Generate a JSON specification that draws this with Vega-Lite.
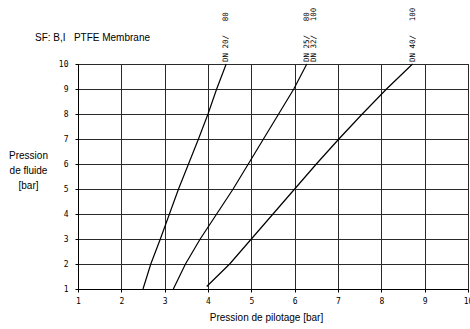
{
  "$schema": "https://vega.github.io/schema/vega-lite/v6.json",
  "autosize": "none",
  "padding": {"left": 78, "top": 64, "right": 2, "bottom": 40},
  "width": 390,
  "height": 225,
  "background": "white",
  "title": {
    "text": "SF: B,I\u00a0\u00a0\u00a0PTFE Membrane",
    "anchor": "start",
    "frame": "group",
    "font": "Liberation Sans",
    "fontSize": 10,
    "fontWeight": "normal",
    "color": "black",
    "baseline": "alphabetic",
    "dx": -43,
    "dy": 43,
    "offset": 0
  },
  "datasets": {
    "curves": [
      {"s": "DN20", "x": 2.5, "y": 1},
      {"s": "DN20", "x": 2.68, "y": 2},
      {"s": "DN20", "x": 2.9, "y": 3},
      {"s": "DN20", "x": 3.11, "y": 4},
      {"s": "DN20", "x": 3.32, "y": 5},
      {"s": "DN20", "x": 3.55, "y": 6},
      {"s": "DN20", "x": 3.78, "y": 7},
      {"s": "DN20", "x": 4.0, "y": 8},
      {"s": "DN20", "x": 4.2, "y": 9},
      {"s": "DN20", "x": 4.42, "y": 10},
      {"s": "DN25", "x": 3.2, "y": 1},
      {"s": "DN25", "x": 3.48, "y": 2},
      {"s": "DN25", "x": 3.82, "y": 3},
      {"s": "DN25", "x": 4.2, "y": 4},
      {"s": "DN25", "x": 4.58, "y": 5},
      {"s": "DN25", "x": 4.93, "y": 6},
      {"s": "DN25", "x": 5.28, "y": 7},
      {"s": "DN25", "x": 5.63, "y": 8},
      {"s": "DN25", "x": 5.98, "y": 9},
      {"s": "DN25", "x": 6.28, "y": 10},
      {"s": "DN40", "x": 3.97, "y": 1.1},
      {"s": "DN40", "x": 4.5, "y": 2},
      {"s": "DN40", "x": 5.0, "y": 3},
      {"s": "DN40", "x": 5.5, "y": 4},
      {"s": "DN40", "x": 6.0, "y": 5},
      {"s": "DN40", "x": 6.5, "y": 6},
      {"s": "DN40", "x": 7.02, "y": 7},
      {"s": "DN40", "x": 7.56, "y": 8},
      {"s": "DN40", "x": 8.12, "y": 9},
      {"s": "DN40", "x": 8.72, "y": 10}
    ],
    "labels": [
      {"t": "DN 20/\u00a0\u00a0\u00a080", "x": 4.42, "y": 10, "off": 0},
      {"t": "DN 25/\u00a0\u00a0\u00a080|DN 32/\u00a0\u00a0\u00a0100", "x": 6.28, "y": 10, "off": -5},
      {"t": "DN 40/\u00a0\u00a0\u00a0100", "x": 8.72, "y": 10, "off": 0}
    ]
  },
  "encoding": {
    "x": {
      "field": "x", "type": "quantitative",
      "scale": {"domain": [1, 10], "nice": false, "zero": false},
      "axis": {
        "values": [1, 2, 3, 4, 5, 6, 7, 8, 9, 10],
        "tickCount": 20,
        "format": "d",
        "title": "Pression de pilotage [bar]",
        "titleFont": "Liberation Sans", "titleFontSize": 10, "titleFontWeight": "normal", "titleColor": "black",
        "titleX": 188, "titleY": 31, "titleBaseline": "alphabetic", "titleAlign": "center",
        "labelFont": "DejaVu Sans Mono", "labelFontSize": 8, "labelColor": "black", "labelPadding": 5,
        "labelFlush": false, "labelOverlap": false,
        "tickSize": 3, "tickColor": "black",
        "domainColor": "black",
        "grid": true, "gridColor": "#2a2a2a", "gridWidth": 1, "gridOpacity": 1
      }
    },
    "y": {
      "field": "y", "type": "quantitative",
      "scale": {"domain": [1, 10], "nice": false, "zero": false},
      "axis": {
        "values": [1, 2, 3, 4, 5, 6, 7, 8, 9, 10],
        "tickCount": 20,
        "format": "d",
        "title": ["Pression", "de fluide", "[bar]"],
        "titleAngle": 0, "titleAlign": "center", "titleBaseline": "middle",
        "titleX": -50, "titleY": 91, "titleLineHeight": 15,
        "titleFont": "Liberation Sans", "titleFontSize": 10, "titleFontWeight": "normal", "titleColor": "black",
        "labelFont": "DejaVu Sans Mono", "labelFontSize": 8, "labelColor": "black", "labelPadding": 7,
        "labelFlush": false, "labelOverlap": false,
        "tickSize": 3, "tickColor": "black",
        "domainColor": "black",
        "grid": true, "gridColor": "#2a2a2a", "gridWidth": 1, "gridOpacity": 1
      }
    }
  },
  "layer": [
    {
      "data": {"name": "curves"},
      "mark": {"type": "line", "color": "black", "strokeWidth": 1.2, "clip": false},
      "encoding": {
        "detail": {"field": "s"}
      }
    },
    {
      "data": {"name": "labels"},
      "mark": {"type": "text", "angle": 270, "align": "left", "baseline": "middle", "dx": 2, "font": "DejaVu Sans Mono", "fontSize": 7.5, "color": "black", "lineBreak": "|", "lineHeight": 7},
      "encoding": {
        "text": {"field": "t"},
        "dy": {"field": "off", "type": "quantitative", "scale": null}
      }
    }
  ],
  "config": {"view": {"stroke": "black", "strokeWidth": 1}}
}
